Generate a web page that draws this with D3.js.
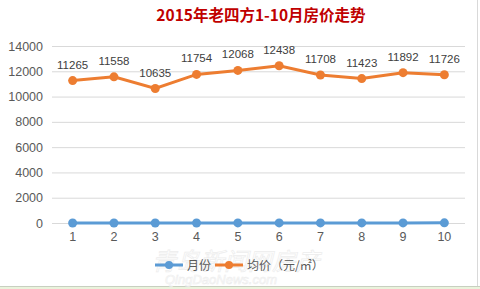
<!DOCTYPE html>
<meta charset="utf-8">
<style>
body { margin: 0; background: #fff; }
.grid line { stroke: #d9d9d9; }
.grid .domain { display: none; }
.axis text { fill: #595959; font-family: "Liberation Sans", Arial, sans-serif; font-size: 12.5px; }
.axis .domain, .axis line { display: none; }
</style>
<body>
<script src="https://cdn.jsdelivr.net/npm/d3@7"></script>
<script>

// chart data
var months = [1, 2, 3, 4, 5, 6, 7, 8, 9, 10];
var monthSeries = [1, 2, 3, 4, 5, 6, 7, 8, 9, 10];
var avgPrice = [11265, 11558, 10635, 11754, 12068, 12438, 11708, 11423, 11892, 11726];
var yTicks = [0, 2000, 4000, 6000, 8000, 10000, 12000, 14000];
var seriesNames = ["月份", "均价（元/㎡）"];
var title = "2015年老四方1-10月房价走势";

var W = 480, H = 289;
var plotL = 52, plotR = 465, plotT = 46, plotB = 223;

var svg = d3.select("body").append("svg")
    .attr("width", W)
    .attr("height", H);

// frame bits from the screenshot
svg.append("rect").attr("x", 0).attr("y", 286).attr("width", W).attr("height", 3).attr("fill", "#eaf3dc");
svg.append("line").attr("x1", 0).attr("x2", W).attr("y1", 286.5).attr("y2", 286.5).attr("stroke", "#c8cfc0");
svg.append("line").attr("x1", 477.5).attr("x2", 477.5).attr("y1", 0).attr("y2", 286).attr("stroke", "#d9d9d9");

var x = d3.scaleBand().domain(months).range([plotL, plotR]);
var y = d3.scaleLinear().domain([0, 14000]).range([plotB, plotT]);
var cx = function(d) { return x(d) + x.bandwidth() / 2; };

// gridlines
svg.append("g")
    .attr("class", "grid")
    .attr("transform", "translate(" + plotL + ",0)")
    .call(d3.axisLeft(y).tickValues(yTicks).tickSize(-(plotR - plotL)).tickFormat(""));

// y axis labels
svg.append("g")
    .attr("class", "axis")
    .attr("transform", "translate(" + (plotL - 3) + ",0)")
    .call(d3.axisLeft(y).tickValues(yTicks).tickSize(0).tickPadding(6).tickFormat(d3.format("d")));

// x axis labels
svg.append("g")
    .attr("class", "axis")
    .attr("transform", "translate(0," + plotB + ")")
    .call(d3.axisBottom(x).tickSize(0).tickPadding(9));

// watermark
svg.append("text")
    .attr("x", 152).attr("y", 270)
    .attr("font-family", "Noto Sans CJK SC").attr("font-size", 24)
    .attr("font-style", "italic")
    .attr("fill", "none").attr("stroke", "#ededed").attr("stroke-width", 0.7)
    .text("青岛新闻网房产");
svg.append("text")
    .attr("x", 165).attr("y", 284)
    .attr("font-family", "Liberation Sans").attr("font-size", 13)
    .attr("font-style", "italic")
    .attr("fill", "none").attr("stroke", "#ededed").attr("stroke-width", 0.6)
    .text("QingDaoNews.com");

var line = d3.line()
    .x(function(d, i) { return cx(months[i]); })
    .y(function(d) { return y(d); });

var series = [
  { name: seriesNames[0], values: monthSeries, color: "#5b9bd5" },
  { name: seriesNames[1], values: avgPrice, color: "#ed7d31" }
];

series.forEach(function(s) {
  svg.append("path")
      .datum(s.values)
      .attr("fill", "none")
      .attr("stroke", s.color)
      .attr("stroke-width", 3)
      .attr("d", line);
  svg.selectAll(null)
      .data(s.values)
      .enter().append("circle")
      .attr("cx", function(d, i) { return cx(months[i]); })
      .attr("cy", function(d) { return y(d); })
      .attr("r", 4.5)
      .attr("fill", s.color);
});

// data labels for price
svg.selectAll(null)
    .data(avgPrice)
    .enter().append("text")
    .attr("x", function(d, i) { return cx(months[i]); })
    .attr("y", function(d) { return y(d) - 12; })
    .attr("text-anchor", "middle")
    .attr("font-family", "Liberation Sans, Arial, sans-serif")
    .attr("font-size", 11.5)
    .attr("fill", "#404040")
    .text(function(d) { return d; });

// title
svg.append("text")
    .attr("x", 261).attr("y", 21)
    .attr("text-anchor", "middle")
    .attr("font-family", "Noto Sans CJK SC")
    .attr("font-weight", "bold")
    .attr("font-size", 15.5)
    .attr("fill", "#c00000")
    .text(title);

// legend
var legX = [155, 215];
series.forEach(function(s, i) {
  var g = svg.append("g").attr("transform", "translate(" + legX[i] + ",265)");
  g.append("line").attr("x1", 0).attr("x2", 28).attr("stroke", s.color).attr("stroke-width", 3);
  g.append("circle").attr("cx", 14).attr("r", 4).attr("fill", s.color);
  g.append("text")
      .attr("x", 32).attr("y", 4.5)
      .attr("font-family", "Noto Sans CJK SC")
      .attr("font-size", 12)
      .attr("fill", "#595959")
      .text(s.name);
});

</script>
</body>
